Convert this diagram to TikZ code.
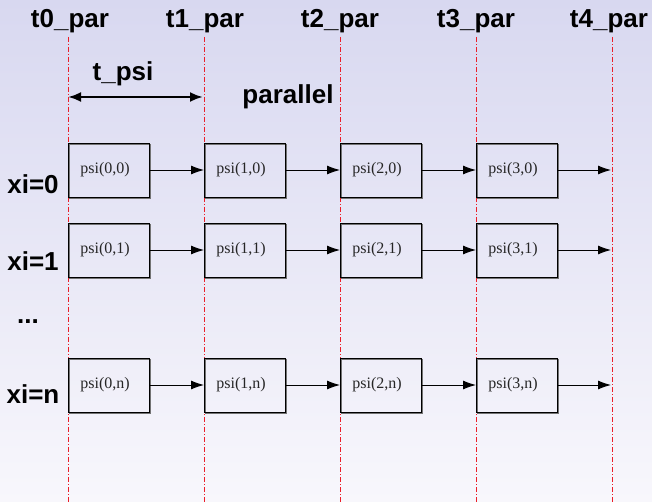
\documentclass[tikz,border=0pt]{standalone}
\usepackage{fontspec}
\setmainfont{Liberation Serif}
\newfontfamily\labfont{Liberation Sans}
\usetikzlibrary{arrows.meta}
\definecolor{bgtop}{RGB}{216,216,240}
\definecolor{bgbot}{RGB}{248,247,252}
\definecolor{gridred}{RGB}{235,30,40}
\tikzset{
  psibox/.style={draw=black, line width=0.9pt, minimum width=81pt, minimum height=54pt, inner sep=0pt},
  shadowbox/.style={draw=black!55, line width=1pt, minimum width=81pt, minimum height=54pt},
  psitext/.style={font=\fontsize{16}{18}\selectfont, text=black!85, inner sep=0pt},
  biglab/.style={font=\labfont\bfseries\fontsize{26}{28}\selectfont, inner sep=0pt},
  timeline/.style={draw=gridred, line width=0.8pt, dash pattern=on 5pt off 2pt on 1pt off 2pt},
  flow/.style={draw=black, line width=0.9pt, -{Latex[length=13pt,width=9pt]}},
}
\begin{document}
\begin{tikzpicture}[x=1pt,y=-1pt]
\useasboundingbox (0,0) rectangle (652,502);
\shade[top color=bgtop, bottom color=bgbot] (0,0) rectangle (652,502);
% time labels and lines
\foreach \i/\x/\dx in {0/68/2,1/204/1,2/340/0,3/476/0,4/612/-3}{
  \node[biglab] (t\i) at (\x+\dx,21) {t\i\_par};
  \coordinate (ttop\i) at (\x,37);
  \coordinate (tbot\i) at (\x,502);
  \draw[timeline] (ttop\i) -- (tbot\i);
}
% t_psi
\node[biglab] (tpsi) at (123,74) {t\_psi};
\coordinate (ta) at (68,97);
\coordinate (tb) at (203,97);
\draw[line width=2.5pt, {Latex[length=13pt,width=10pt]}-{Latex[length=13pt,width=10pt]}] (ta) -- (tb);
\node[biglab] (par) at (288,97) {parallel};
% rows
\foreach \r/\y/\lab in {0/170/0,1/250/1,2/385/n}{
  \foreach \c/\x in {0/68,1/204,2/340,3/476}{
    \node[shadowbox, anchor=north west] at (\x+0.8,\y-26.2) {};
    \node[psibox, anchor=west] (b\c\r) at (\x,\y) {};
    \node[psitext] (l\c\r) at (\x+37,\y) {psi(\c,\lab)};
  }
  \foreach \c/\n in {0/1,1/2,2/3}{
    \draw[flow] (b\c\r.east) -- (b\n\r.west);
  }
  \coordinate (end\r) at (611,\y);
  \draw[flow] (b3\r.east) -- (end\r);
}
\node[biglab] (xi0) at (33,184) {xi=0};
\node[biglab] (xi1) at (33,261) {xi=1};
\node[biglab] (dots) at (28,322) {...};
\node[biglab] (xin) at (33,394) {xi=n};
\end{tikzpicture}
\end{document}
